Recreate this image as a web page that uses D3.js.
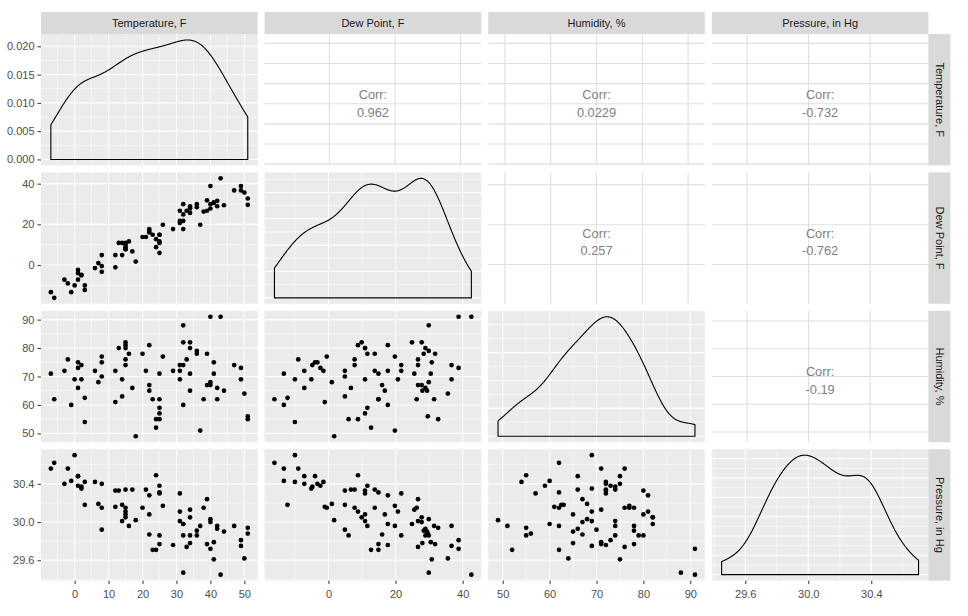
<!DOCTYPE html>
<html><head><meta charset="utf-8">
<script src="https://cdn.jsdelivr.net/npm/d3@7"></script>
<style>
body{margin:0;background:#fff;}
text{font-family:"Liberation Sans",Arial,sans-serif;}
</style></head><body>
<svg id="c" width="968" height="616"></svg>
<script>
const varNames = ["Temperature, F","Dew Point, F","Humidity, %","Pressure, in Hg"];
const temperature = [-7,-6,0,-2,-3,-1,1,1,1,2,2,3,3,6,8,7,8,8,12,13,12,15,17,14,15,15,15,15,14,16,18,20,21,22,22,22,23,24,24,25,25,25,26,25,25,29,31,31,31,32,32,32,32,33,34,34,34,34,36,36,37,38,39,39,40,40,40,41,41,42,42,43,44,47,49,49,50,51,51];
const dewPoint = [-13.3,-16.1,-10,-9,-7.2,-13.3,-4,-7.2,-2.4,-4.8,-5.1,-10,-12.2,-1.5,-3.3,1,-0.5,4.9,4.9,10.9,-1.1,7.8,6.7,4.9,7.8,8.8,10.9,9.9,10.9,11.6,1.7,13.8,13.8,17.7,16.8,16,14.9,12.7,8.8,11.6,14.9,10.9,19.8,6,14.9,17.7,21.7,20.7,26.7,24.9,17.7,21.7,29.9,26.7,25.6,27.8,28.9,28,29.9,28.4,19.8,26.3,26.7,31.8,29.9,27.8,38.8,30.5,30.8,31.5,28.9,42.6,29.4,36.7,38.8,36.7,35.6,32.7,29.6];
const humidity = [71,62,69,76,72,60,75,66,73,74,69,54,62.5,72,75,68,77,70,72,80,61,74,66,63,76,81,80,82,69,78,49,78,72,81,65,67,62,52,55,59,62,57,77,55,71,72,72,69,74,82,60,74,88,76,71,82,80,65,79,78,51,62,67,78,68,67,91,71,75,62,66,91,65,74,73,69,64,55,56];
const pressure = [30.56,30.62,30.70,30.56,30.40,30.43,30.48,30.48,30.38,30.37,30.35,30.42,30.18,30.42,30.40,30.19,30.15,29.92,30.33,30.33,30.16,30.34,30.34,30.18,30.15,30.11,30.08,30.05,30.01,29.96,30.02,30.15,30.34,30.28,30.08,29.87,29.71,29.71,30.49,30.38,30.31,30.30,30.17,29.86,29.77,29.76,30.30,30.11,30.01,29.98,29.98,29.86,29.47,29.74,30.13,30.05,29.86,29.78,29.86,29.91,29.96,30.15,30.24,29.77,30.03,30.00,29.72,29.79,29.61,29.96,29.93,29.45,29.90,29.96,29.81,29.75,29.62,29.94,29.88];
const tickValues = [[0,10,20,30,40,50],[0,20,40],[50,60,70,80,90],[29.6,30.0,30.4]];
const tickLabels = [["0","10","20","30","40","50"],["0","20","40"],["50","60","70","80","90"],["29.6","30.0","30.4"]];
const corGridTicks = [[-10,0,10,20,30,40,50],[0,20,40],[50,60,70,80,90],[29.6,30.0,30.4]];
const densityTicks = [0,0.005,0.010,0.015,0.020];
const densityTickLabels = ["0.000","0.005","0.010","0.015","0.020"];
const corrPairs = [[0,1],[0,2],[0,3],[1,2],[1,3],[2,3]];
const corrValues = ["0.962","0.0229","-0.732","0.257","-0.762","-0.19"];

const cols = [temperature, dewPoint, humidity, pressure];
const svg = d3.select("#c");
const L = 41, T = 34, pw = 216.6, ph = 131.4, gap = 7;
const px = c => L + c*(pw+gap);
const py = r => T + r*(ph+gap);

function expandDomain(vals, f){ const [a,b] = d3.extent(vals); const r = b-a; return [a-r*f, b+r*f]; }
function minorsOf(ticks, dom){
  if (ticks.length < 2) return [];
  const s = ticks[1]-ticks[0]; const out = [];
  for (let k = -1; k <= ticks.length; k++){ const v = ticks[0] + s*(k+0.5); if (v>=dom[0] && v<=dom[1]) out.push(v); }
  return out;
}
function kde(vals){
  const n = vals.length; const sd = d3.deviation(vals);
  const sorted = vals.slice().sort(d3.ascending);
  const iqr = d3.quantileSorted(sorted,0.75) - d3.quantileSorted(sorted,0.25);
  const bw = 0.9*Math.min(sd, iqr/1.34)*Math.pow(n,-0.2);
  const [a,b] = d3.extent(vals); const pts = [];
  for (let i=0;i<512;i++){
    const x = a + (b-a)*i/511; let s = 0;
    for (const v of vals){ const z=(x-v)/bw; s += Math.exp(-0.5*z*z); }
    pts.push([x, s/(n*bw*Math.sqrt(2*Math.PI))]);
  }
  return pts;
}

const lowX = cols.map((v,c) => d3.scaleLinear().domain(expandDomain(v,0.05)).range([px(c), px(c)+pw]));
const lowY = cols.map((v,r) => d3.scaleLinear().domain(expandDomain(v,0.05)).range([py(r)+ph, py(r)]));
const corX = cols.map((v,c) => d3.scaleLinear().domain(expandDomain(v,0.063)).range([px(c), px(c)+pw]));
const corY = cols.map((v,r) => d3.scaleLinear().domain(expandDomain(v,0.063)).range([py(r)+ph, py(r)]));
const dens = cols.map(v => kde(v));
const densY = dens.map((d,i) => { const m = d3.max(d, p=>p[1]); return d3.scaleLinear().domain([-0.05*m, 1.05*m]).range([py(i)+ph, py(i)]); });

function vlines(g, scale, vals, y0, y1, color, w){
  g.selectAll(null).data(vals).join("line").attr("x1",d=>scale(d)).attr("x2",d=>scale(d))
   .attr("y1",y0).attr("y2",y1).attr("stroke",color).attr("stroke-width",w);
}
function hlines(g, scale, vals, x0, x1, color, w){
  g.selectAll(null).data(vals).join("line").attr("y1",d=>scale(d)).attr("y2",d=>scale(d))
   .attr("x1",x0).attr("x2",x1).attr("stroke",color).attr("stroke-width",w);
}

for (let r=0;r<4;r++){
  for (let c=0;c<4;c++){
    const x0 = px(c), y0 = py(r);
    const g = svg.append("g");
    if (r < c){
      g.append("rect").attr("x",x0).attr("y",y0).attr("width",pw).attr("height",ph).attr("fill","#fff");
      const xs = corX[c], ys = corY[r];
      vlines(g, xs, corGridTicks[c].filter(v=>v>=xs.domain()[0]&&v<=xs.domain()[1]), y0, y0+ph, "#dfdfdf", 1.1);
      hlines(g, ys, corGridTicks[r].filter(v=>v>=ys.domain()[0]&&v<=ys.domain()[1]), x0, x0+pw, "#dfdfdf", 1.1);
      const idx = corrPairs.findIndex(p => p[0]===r && p[1]===c);
      const cx = x0+pw/2, cy = y0+ph/2;
      g.append("text").attr("x",cx).attr("y",cy-0.5).attr("text-anchor","middle").attr("font-size","12.8px").attr("fill","#7f7f7f").text("Corr:");
      g.append("text").attr("x",cx).attr("y",cy+17).attr("text-anchor","middle").attr("font-size","12.8px").attr("fill","#7f7f7f").text(corrValues[idx]);
    } else {
      g.append("rect").attr("x",x0).attr("y",y0).attr("width",pw).attr("height",ph).attr("fill","#ebebeb");
      const xs = lowX[c];
      const ys = (r===c) ? densY[r] : lowY[r];
      const ymaj = (r===c) ? (r===0 ? densityTicks : ys.ticks(5)) : tickValues[r];
      vlines(g, xs, minorsOf(tickValues[c], xs.domain()), y0, y0+ph, "#fff", 0.55);
      hlines(g, ys, minorsOf(ymaj, ys.domain()), x0, x0+pw, "#fff", 0.55);
      vlines(g, xs, tickValues[c], y0, y0+ph, "#fff", 1.1);
      hlines(g, ys, ymaj.filter(v=>v>=ys.domain()[0]&&v<=ys.domain()[1]), x0, x0+pw, "#fff", 1.1);
      if (r===c){
        const d = dens[r];
        const pts = [[d[0][0],0], ...d, [d[d.length-1][0],0]];
        const line = d3.line().x(p=>xs(p[0])).y(p=>ys(p[1]));
        g.append("path").attr("d", line(pts)+"Z").attr("fill","none").attr("stroke","#000").attr("stroke-width",1.1);
      } else {
        g.selectAll(null).data(cols[c].map((v,i)=>[v, cols[r][i]])).join("circle")
          .attr("cx",p=>xs(p[0])).attr("cy",p=>ys(p[1])).attr("r",2.35).attr("fill","#000");
      }
    }
  }
}

// strips
for (let c=0;c<4;c++){
  svg.append("rect").attr("x",px(c)).attr("y",12).attr("width",pw).attr("height",22).attr("fill","#d9d9d9");
  svg.append("text").attr("x",px(c)+pw/2).attr("y",23).attr("dy","0.35em").attr("text-anchor","middle")
    .attr("font-size","11px").attr("fill","#1a1a1a").text(varNames[c]);
}
const sx = px(3)+pw;
for (let r=0;r<4;r++){
  svg.append("rect").attr("x",sx).attr("y",py(r)).attr("width",22).attr("height",ph).attr("fill","#d9d9d9");
  svg.append("text").attr("transform",`translate(${sx+11},${py(r)+ph/2}) rotate(90)`).attr("dy","0.35em")
    .attr("text-anchor","middle").attr("font-size","11px").attr("fill","#1a1a1a").text(varNames[r]);
}

function styleAxis(g){
  g.select(".domain").remove();
  g.selectAll(".tick line").attr("stroke","#333").attr("stroke-width",1);
  g.selectAll(".tick text").attr("fill","#4d4d4d").attr("font-size","11px").attr("font-family","Liberation Sans, Arial, sans-serif");
}
// left axes
for (let r=0;r<4;r++){
  const sc = r===0 ? densY[0] : lowY[r];
  const tv = r===0 ? densityTicks : tickValues[r];
  const tl = r===0 ? densityTickLabels : tickLabels[r];
  const ax = d3.axisLeft(sc).tickValues(tv).tickFormat((d,i)=>tl[i]).tickSize(3.5).tickPadding(3);
  svg.append("g").attr("transform",`translate(${L},0)`).call(ax).call(styleAxis);
}
// bottom axes
const yb = py(3)+ph;
for (let c=0;c<4;c++){
  const ax = d3.axisBottom(lowX[c]).tickValues(tickValues[c]).tickFormat((d,i)=>tickLabels[c][i]).tickSize(3.5).tickPadding(6);
  svg.append("g").attr("transform",`translate(0,${yb})`).call(ax).call(styleAxis);
}
</script>
</body></html>
